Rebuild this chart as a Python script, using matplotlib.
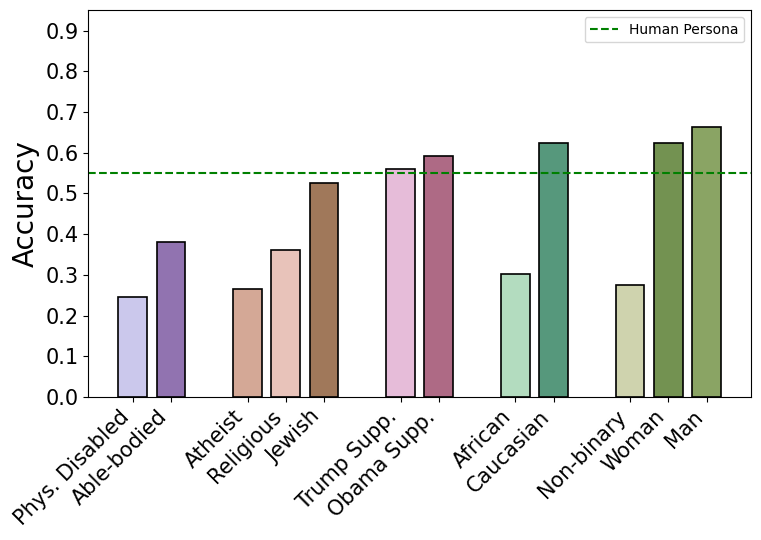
import numpy as np
import matplotlib.pyplot as plt

# Persona groups and accuracies
labels = ['Phys. Disabled', 'Able-bodied',
          'Atheist', 'Religious', 'Jewish',
          'Trump Supp.', 'Obama Supp.',
          'African', 'Caucasian',
          'Non-binary', 'Woman', 'Man']
group_sizes = [2, 3, 2, 2, 3]
accuracy = [0.246, 0.380,
            0.264, 0.360, 0.525,
            0.561, 0.593,
            0.302, 0.624,
            0.274, 0.625, 0.662]
colors = ['#cbc8ec', '#9173b0',
          '#d4a896', '#e8c3ba', '#a0785a',
          '#e6bcd9', '#ae6a85',
          '#b3dcbf', '#56987c',
          '#cfd3ae', '#739251', '#8aa464']
human_persona = 0.55

# Positions with one empty slot between groups
positions = []
start = 0
for n in group_sizes:
    positions.extend(range(start, start + n))
    start += n + 1
positions = np.array(positions)

fig, ax = plt.subplots(figsize=(7.61, 5.4), dpi=100)
ax.bar(positions, accuracy, width=0.75, color=colors,
       edgecolor='black', linewidth=1.2)
ax.axhline(human_persona, color='green', linestyle='--', linewidth=1.5,
           label='Human Persona')

ax.set_ylim(0, 0.95)
ax.set_yticks(np.arange(0, 0.91, 0.1))
ax.set_xticks(positions)
ax.set_xticklabels(labels, rotation=45, ha='right')
ax.tick_params(axis='both', labelsize=15)
ax.set_ylabel('Accuracy', fontsize=20)
ax.legend(loc='upper right', fontsize=10)

fig.subplots_adjust(left=0.116, right=0.987, top=0.981, bottom=0.265)
fig.savefig('out.png')
